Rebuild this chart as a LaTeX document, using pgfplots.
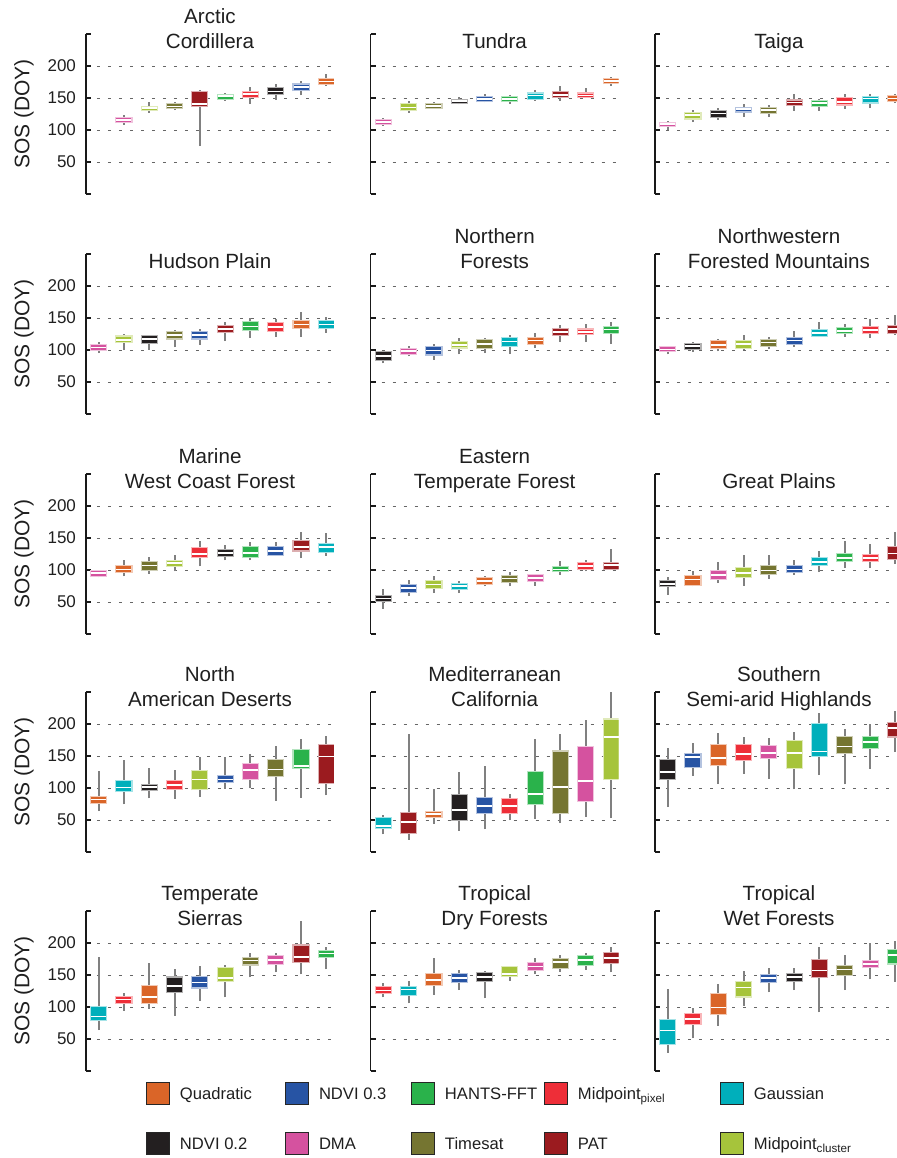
\documentclass[border=0pt]{standalone}
\usepackage{fontspec}
\setmainfont{Liberation Sans}
\usepackage{pgfplots}
\pgfplotsset{compat=1.18}

\definecolor{cQuad}{HTML}{DA6528}
\definecolor{cN3}{HTML}{2754A4}
\definecolor{cHants}{HTML}{2AB24B}
\definecolor{cPix}{HTML}{EE2E38}
\definecolor{cGau}{HTML}{00AFBB}
\definecolor{cN2}{HTML}{231F20}
\definecolor{cDMA}{HTML}{D5529F}
\definecolor{cTim}{HTML}{757531}
\definecolor{cPAT}{HTML}{9B1B1F}
\definecolor{cClu}{HTML}{A6C43B}

% pos, colour, lower whisker, lower quartile, median, upper quartile, upper whisker
\newcommand{\bx}[7]{%
  \addplot[black!50, line width=1pt] coordinates {(#1,#3) (#1,#7)};
  \addplot[#2!35!white, line width=8.6pt, shorten <=-0.55pt, shorten >=-0.55pt] coordinates {(#1,#4) (#1,#6)};
  \addplot[#2, line width=7.5pt] coordinates {(#1,#4) (#1,#6)};
  \addplot[only marks, mark=-, mark size=3.75pt, mark options={draw=white, line width=0.8pt}] coordinates {(#1,#5)};
}

\pgfplotsset{
  panel/.style={
    scale only axis, width=124pt, height=80pt,
    xmin=0.5, xmax=10.3, ymin=0, ymax=250,
    axis x line=none, axis y line=left,
    axis line style={-}, y axis line style={-, line width=0.75pt, black!90},
    xtick=\empty,
    ytick={50,100,150,200},
    extra y ticks={0,250}, extra y tick labels={}, extra y tick style={grid=none},
    tick align=inside, major tick length=2.5pt,
    tick style={black!90, line width=0.75pt},
    ymajorgrids, grid style={black!60, line width=0.5pt, dash pattern=on 1.5pt off 4pt},
    /pgf/number format/assume math mode=true,
    yticklabel style={font=\fontsize{8.5}{10}\selectfont, xshift=-1.5pt, text=black!88},
    every axis title/.style={at={(axis description cs:0.5,0.90625)}, anchor=south, align=center,
      inner sep=0pt, text depth=0pt, font=\fontsize{10.3}{12.5}\selectfont, text=black!88},
  },
  leftpanel/.style={panel, ylabel={SOS (DOY)},
    ylabel style={at={(axis description cs:-0.25,0.5)}, anchor=center,
      font=\fontsize{10.5}{12}\selectfont, text=black!88}},
  innerpanel/.style={panel, yticklabels={}},
}

\begin{document}
\begin{tikzpicture}
% ---------------- Row 1 ----------------
\begin{axis}[leftpanel, at={(43pt,-97pt)}, anchor=south west, title={Arctic\\Cordillera}]
\bx{2}{cDMA}{108}{112}{116}{119}{124}
\bx{3}{cClu}{127}{131}{134}{136}{143}
\bx{4}{cTim}{131}{134}{137}{140}{144}
\bx{5}{cPAT}{75}{138}{141}{159}{162}
\bx{6}{cHants}{146}{149}{153}{155}{158}
\bx{7}{cPix}{141}{152}{156}{160}{167}
\bx{8}{cN2}{147}{156}{160}{165}{172}
\bx{9}{cN3}{154}{162}{167}{171}{176}
\bx{10}{cQuad}{169}{172}{176}{180}{187}
\end{axis}
\begin{axis}[innerpanel, at={(185.35pt,-97pt)}, anchor=south west, title={Tundra}]
\bx{1}{cDMA}{107}{110}{112.5}{115}{119}
\bx{2}{cClu}{127}{131}{135}{140}{145}
\bx{3}{cTim}{133}{135}{137.5}{140}{144}
\bx{4}{cN2}{140}{142}{145}{147}{151}
\bx{5}{cN3}{143}{145}{148}{151}{156}
\bx{6}{cHants}{141}{145}{148}{151}{154}
\bx{7}{cGau}{146}{148}{154}{157}{162}
\bx{8}{cPAT}{145}{152}{155}{159}{169}
\bx{9}{cPix}{150}{152}{154}{157}{165}
\bx{10}{cQuad}{169}{173}{177}{180}{183}
\end{axis}
\begin{axis}[innerpanel, at={(327.5pt,-97pt)}, anchor=south west, title={Taiga}]
\bx{1}{cDMA}{99.5}{106}{109}{111.5}{113.5}
\bx{2}{cClu}{112.5}{118}{123}{126}{132}
\bx{3}{cN2}{116}{121}{125.5}{129}{135}
\bx{4}{cN3}{121}{129}{133}{135}{141}
\bx{5}{cTim}{120}{127}{131}{134}{138.5}
\bx{6}{cPAT}{130}{138.5}{143}{146}{156}
\bx{7}{cHants}{130}{138}{142}{145}{148}
\bx{8}{cPix}{133}{140}{144}{149.5}{156}
\bx{9}{cGau}{134}{143}{149}{151}{157}
\bx{10}{cQuad}{142}{146}{149.5}{153}{156}
\end{axis}
% ---------------- Row 2 ----------------
\begin{axis}[leftpanel, at={(43pt,-207pt)}, anchor=south west, title={Hudson Plain}]
\bx{1}{cDMA}{95}{100.5}{104}{108}{112}
\bx{2}{cClu}{100.5}{112}{116}{121}{125}
\bx{3}{cN2}{100.5}{111.5}{117}{122}{124}
\bx{4}{cTim}{104}{118}{123}{128}{132}
\bx{5}{cN3}{108}{118}{123}{128}{133}
\bx{6}{cPAT}{114}{128}{133}{138}{144}
\bx{7}{cHants}{119}{132}{136.5}{143}{150}
\bx{8}{cPix}{120}{130}{136}{142}{149}
\bx{9}{cQuad}{120}{135}{140}{145}{159}
\bx{10}{cGau}{127}{134}{140}{145}{152}
\end{axis}
\begin{axis}[innerpanel, at={(185.35pt,-207pt)}, anchor=south west, title={Northern\\Forests}]
\bx{1}{cN2}{79}{85}{91}{97}{99}
\bx{2}{cDMA}{90}{94}{98}{102}{106}
\bx{3}{cN3}{85}{93}{99}{105}{110}
\bx{4}{cClu}{93}{104}{108}{112}{119}
\bx{5}{cTim}{95}{103}{109}{115}{119}
\bx{6}{cGau}{94}{107}{113.5}{119}{124}
\bx{7}{cQuad}{103}{110}{115}{119}{127}
\bx{8}{cPAT}{113}{124}{128}{133}{139}
\bx{9}{cPix}{112.5}{124.5}{128.5}{132}{141}
\bx{10}{cHants}{109}{127}{132}{136.5}{143}
\end{axis}
\begin{axis}[innerpanel, at={(327.5pt,-207pt)}, anchor=south west, title={Northwestern\\Forested Mountains}]
\bx{1}{cDMA}{93}{98}{101}{104}{107}
\bx{2}{cN2}{96.5}{101.5}{106}{110}{112.5}
\bx{3}{cQuad}{98}{103}{108}{114.5}{117}
\bx{4}{cClu}{99.5}{103.5}{109}{114}{124}
\bx{5}{cTim}{101.5}{107}{111.5}{116}{120}
\bx{6}{cN3}{105}{110}{115}{119}{129}
\bx{7}{cGau}{120}{122.5}{126.5}{131}{143}
\bx{8}{cHants}{121}{126.5}{130}{134.5}{140.5}
\bx{9}{cPix}{119}{126}{131}{136}{149}
\bx{10}{cPAT}{124}{126.5}{133}{137}{154}
\end{axis}
% ---------------- Row 3 ----------------
\begin{axis}[leftpanel, at={(43pt,-317pt)}, anchor=south west, title={Marine\\West Coast Forest}]
\bx{1}{cDMA}{88.5}{91}{95}{99}{100.5}
\bx{2}{cQuad}{90}{97}{101}{105.5}{116}
\bx{3}{cTim}{94}{100.5}{107}{112}{120}
\bx{4}{cClu}{98}{107}{110.5}{114.5}{123.5}
\bx{5}{cPix}{105.5}{120}{125}{134.5}{146}
\bx{6}{cN2}{115}{121.5}{126.5}{130.5}{138.5}
\bx{7}{cHants}{115}{120}{126.5}{135.5}{143}
\bx{8}{cN3}{121.5}{124}{130}{135.5}{144}
\bx{9}{cPAT}{118}{130.5}{136}{145}{160}
\bx{10}{cGau}{122.5}{128}{135.5}{141}{158}
\end{axis}
\begin{axis}[innerpanel, at={(185.35pt,-317pt)}, anchor=south west, title={Eastern\\Temperate Forest}]
\bx{1}{cN2}{39.5}{52}{55.5}{60}{71}
\bx{2}{cN3}{59}{66}{71.5}{76}{85}
\bx{3}{cClu}{64}{71.5}{77.5}{82.5}{90}
\bx{4}{cGau}{64}{71}{75}{78.5}{83}
\bx{5}{cQuad}{74.5}{78.5}{83}{87}{91}
\bx{6}{cTim}{74.5}{82}{87}{91}{96.5}
\bx{7}{cDMA}{75.5}{83}{87.5}{91.5}{94}
\bx{8}{cHants}{92.5}{98}{101}{104}{113.5}
\bx{9}{cPix}{98}{102}{106}{110.5}{116}
\bx{10}{cPAT}{99.5}{102}{107.5}{111.5}{133}
\end{axis}
\begin{axis}[innerpanel, at={(327.5pt,-317pt)}, anchor=south west, title={Great Plains}]
\bx{1}{cN2}{61.5}{74.5}{78.5}{82.5}{89}
\bx{2}{cQuad}{74.5}{77}{85}{91}{98}
\bx{3}{cDMA}{79.5}{86.5}{92.5}{98}{112}
\bx{4}{cClu}{75.5}{89}{95.5}{103}{124}
\bx{5}{cTim}{86}{94.5}{99.5}{105.5}{124}
\bx{6}{cN3}{92.5}{96.5}{100.5}{105.5}{115}
\bx{7}{cGau}{96.5}{107.5}{112.5}{119}{129}
\bx{8}{cHants}{103}{113.5}{119}{125}{146}
\bx{9}{cPix}{103}{113.5}{119}{123.5}{141}
\bx{10}{cPAT}{110}{117.5}{125.5}{135.5}{160}
\end{axis}
% ---------------- Row 4 ----------------
\begin{axis}[leftpanel, at={(43pt,-426pt)}, anchor=south west, title={North\\American Deserts}]
\bx{1}{cQuad}{64}{77}{82}{86}{126}
\bx{2}{cGau}{74.5}{95}{100.5}{111}{143}
\bx{3}{cN2}{84}{96.5}{101.5}{105}{131}
\bx{4}{cPix}{83}{98}{105}{111}{128.5}
\bx{5}{cClu}{86}{98}{113.5}{126.5}{148.5}
\bx{6}{cN3}{99}{109}{113.5}{118}{148.5}
\bx{7}{cDMA}{100}{114.5}{128.5}{137.5}{152.5}
\bx{8}{cTim}{80}{119}{129}{143}{165.5}
\bx{9}{cHants}{85}{132}{134.5}{159}{176}
\bx{10}{cPAT}{88.5}{108}{149.5}{167}{180.5}
\end{axis}
\begin{axis}[innerpanel, at={(185.35pt,-426pt)}, anchor=south west, title={Mediterranean\\California}]
\bx{1}{cGau}{27.5}{37.5}{40.5}{52.5}{58}
\bx{2}{cPAT}{19}{30}{46.5}{61}{184}
\bx{3}{cQuad}{44}{54.5}{59}{62.5}{99}
\bx{4}{cN2}{33}{50.5}{66}{89.5}{125}
\bx{5}{cN3}{35.5}{61}{71.5}{84.5}{134}
\bx{6}{cPix}{49.5}{61}{72}{82.5}{91}
\bx{7}{cHants}{52}{74.5}{90.5}{125}{176}
\bx{8}{cTim}{45}{61}{101.5}{157}{184}
\bx{9}{cDMA}{54.5}{80}{111}{163.5}{207}
\bx{10}{cClu}{53}{114}{180}{207}{250}
\end{axis}
\begin{axis}[innerpanel, at={(327.5pt,-426pt)}, anchor=south west, title={Southern\\Semi-arid Highlands}]
\bx{1}{cN2}{70}{114.5}{125}{143}{162.5}
\bx{2}{cN3}{119}{133}{148.5}{153}{171}
\bx{3}{cQuad}{107}{135.5}{147}{166.5}{186.5}
\bx{4}{cPix}{122.5}{144}{153.5}{166.5}{180}
\bx{5}{cDMA}{114.5}{147.5}{155}{165.5}{178.5}
\bx{6}{cClu}{98}{132}{154.5}{173.5}{187.5}
\bx{7}{cGau}{120}{150}{157}{200.5}{217.5}
\bx{8}{cTim}{105.5}{155}{165}{180}{191.5}
\bx{9}{cHants}{130}{163}{172}{180}{200.5}
\bx{10}{cPAT}{156}{180.5}{194}{202}{221}
\end{axis}
% ---------------- Row 5 ----------------
\begin{axis}[leftpanel, at={(43pt,-535.5pt)}, anchor=south west, title={Temperate\\Sierras}]
\bx{1}{cGau}{64}{79.5}{85}{99.5}{178}
\bx{2}{cPix}{94}{107}{111.5}{115}{121.5}
\bx{3}{cQuad}{97}{107}{116}{133}{169}
\bx{4}{cN2}{86.5}{123}{133}{146}{159}
\bx{5}{cN3}{110}{130.5}{138.5}{147}{164}
\bx{6}{cClu}{115}{141}{145}{160.5}{165.5}
\bx{7}{cTim}{146.5}{166.5}{172.5}{177}{185}
\bx{8}{cDMA}{154}{167.5}{173.5}{179.5}{185}
\bx{9}{cPAT}{151}{171}{178.5}{196}{235}
\bx{10}{cHants}{159}{178.5}{183.5}{188}{193}
\end{axis}
\begin{axis}[innerpanel, at={(185.35pt,-535.5pt)}, anchor=south west, title={Tropical\\Dry Forests}]
\bx{1}{cPix}{115}{121.5}{126}{130.5}{138}
\bx{2}{cGau}{105.5}{119}{127.5}{131}{140.5}
\bx{3}{cQuad}{119}{134.5}{142}{151.5}{177}
\bx{4}{cN3}{126.5}{138.5}{145.5}{152}{158}
\bx{5}{cN2}{113.5}{141}{146.5}{152.5}{157}
\bx{6}{cClu}{140.5}{148}{152}{162}{164.5}
\bx{7}{cDMA}{151.5}{158}{163.5}{168}{176}
\bx{8}{cTim}{155}{161.5}{170}{175}{181}
\bx{9}{cHants}{158}{165.5}{173}{179.5}{184}
\bx{10}{cPAT}{154}{169.5}{177}{184}{193}
\end{axis}
\begin{axis}[innerpanel, at={(327.5pt,-535.5pt)}, anchor=south west, title={Tropical\\Wet Forests}]
\bx{1}{cGau}{28.5}{42}{63}{79}{127.5}
\bx{2}{cPix}{51}{73}{81.5}{89}{98}
\bx{3}{cQuad}{71}{89}{99}{120.5}{136}
\bx{4}{cClu}{102}{116.5}{130.5}{139}{156}
\bx{5}{cN3}{123}{138.5}{145}{150}{161.5}
\bx{6}{cN2}{126.5}{140.5}{146.5}{151.5}{161.5}
\bx{7}{cPAT}{91.5}{147.5}{157}{173.5}{193}
\bx{8}{cTim}{126.5}{150}{158.5}{164}{181}
\bx{9}{cDMA}{143}{162}{167.5}{172.5}{199.5}
\bx{10}{cHants}{139.5}{168}{181}{189}{203}
\end{axis}
% ---------------- Legend ----------------
\begin{axis}[at={(73pt,-541pt)}, anchor=north west, scale only axis, width=1pt, height=1pt,
  hide axis, xmin=0, xmax=1, ymin=0, ymax=1, legend columns=5, legend cell align=left,
  legend style={at={(axis description cs:0,1)}, anchor=north west, draw=none, fill=none,
    inner sep=0pt, outer sep=0pt, column sep=0pt, row sep=13.5pt,
    font=\fontsize{8.3}{10}\selectfont, text=black!88,
    nodes={inner sep=0pt, text height=6pt, text depth=0pt}},
  legend image code/.code={\draw[#1, draw=black!85, line width=0.6pt] (0pt,-5.5pt) rectangle (11.5pt,5.5pt); \path (16.5pt,0pt);}]
\addlegendimage{fill=cQuad}\addlegendentry{\makebox[52.5pt][l]{Quadratic}}
\addlegendimage{fill=cN3}\addlegendentry{\makebox[46pt][l]{NDVI 0.3}}
\addlegendimage{fill=cHants}\addlegendentry{\makebox[49.5pt][l]{HANTS-FFT}}
\addlegendimage{fill=cPix}\addlegendentry{\makebox[71pt][l]{Midpoint\textsubscript{pixel}}}
\addlegendimage{fill=cGau}\addlegendentry{Gaussian}
\addlegendimage{fill=cN2}\addlegendentry{NDVI 0.2}
\addlegendimage{fill=cDMA}\addlegendentry{DMA}
\addlegendimage{fill=cTim}\addlegendentry{Timesat}
\addlegendimage{fill=cPAT}\addlegendentry{PAT}
\addlegendimage{fill=cClu}\addlegendentry{Midpoint\textsubscript{cluster}}
\end{axis}
\pgfresetboundingbox
\path[use as bounding box] (0pt,0pt) rectangle (448.5pt,-579pt);
\end{tikzpicture}
\end{document}
